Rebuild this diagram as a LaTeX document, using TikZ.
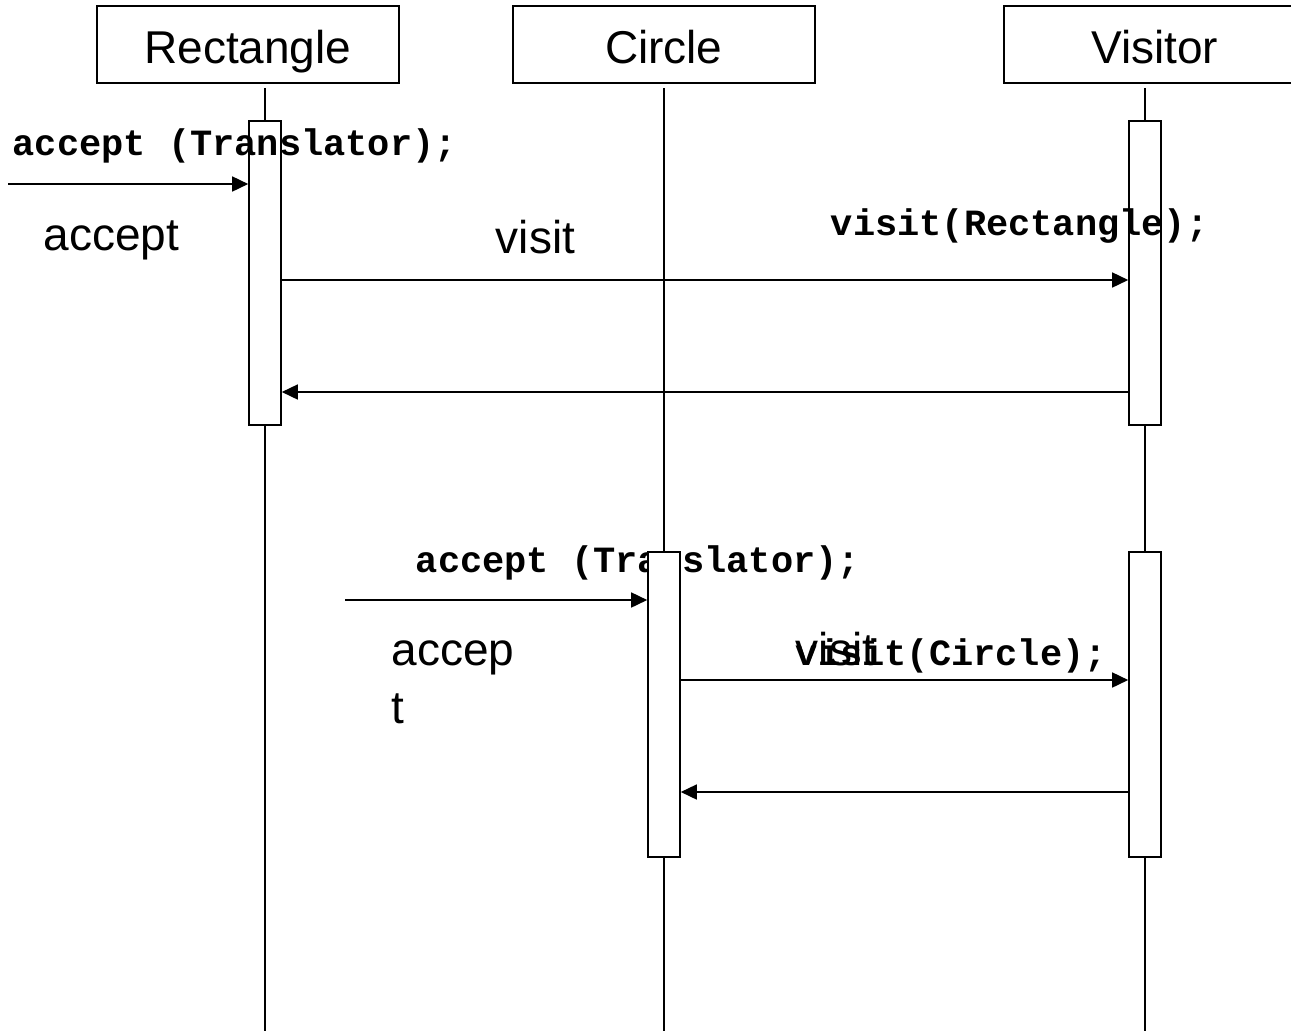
\documentclass[tikz,border=0pt]{standalone}
\usepackage{fontspec}
\setmainfont{Liberation Sans}
\newfontfamily\codefont{Liberation Mono}
\usetikzlibrary{arrows.meta}
\begin{document}
\begin{tikzpicture}[x=1pt,y=-1pt, line width=1.6pt,
 head/.style={draw, minimum width=302pt, minimum height=77pt, inner sep=0pt, text height=42pt, text depth=3pt, font=\fontsize{46}{50}\selectfont, anchor=north west},
 act/.style={draw, fill=white, minimum width=32pt, minimum height=304pt, inner sep=0pt, anchor=north},
 msg/.style={-{Triangle[length=16pt,width=15pt]}},
 lbl/.style={inner sep=0pt, anchor=base west, font=\fontsize{46}{58}\selectfont},
 code/.style={inner sep=0pt, anchor=base west, font=\codefont\bfseries\fontsize{37}{40}\selectfont}]
\clip (0,0) rectangle (1291,1031);
\fill[white] (0,0) rectangle (1291,1031);
% heads
\node[head] (hr) at (96,5) {Rectangle};
\node[head] (hc) at (512,5) {Circle};
\node[head] (hv) at (1003,5) {Visitor};
% lifelines
\coordinate (lr0) at (265,88);   \coordinate (lr1) at (265,1031);
\coordinate (lc0) at (664,88);   \coordinate (lc1) at (664,1031);
\coordinate (lv0) at (1145,88);  \coordinate (lv1) at (1145,1031);
\draw (lr0) -- (lr1);
\draw (lc0) -- (lc1);
\draw (lv0) -- (lv1);
% first interaction
\node[act] (ar) at (265,120) {};
\node[act] (av1) at (1145,120) {};
\coordinate (s1) at (8,184);
\draw[msg] (s1) -- (s1 -| ar.west);
\draw[msg] (ar.east |- 0,280) -- (av1.west |- 0,280);
\draw[msg] (av1.west |- 0,392) -- (ar.east |- 0,392);
\node[code] (t1) at (12,155) {accept (Translator);};
\node[lbl] (t2) at (43,250) {accept};
\node[lbl] (t3) at (495,253) {visit};
\node[code] (t4) at (830,235) {visit(Rectangle);};
% second interaction
\node[code] (t5) at (415,572) {accept (Translator);};
\node[act, minimum height=305pt] (ac) at (664,551) {};
\node[act, minimum height=305pt] (av2) at (1145,551) {};
\coordinate (s2) at (345,600);
\draw[msg] (s2) -- (s2 -| ac.west);
\draw[msg] (ac.east |- 0,680) -- (av2.west |- 0,680);
\draw[msg] (av2.west |- 0,792) -- (ac.east |- 0,792);
\node[lbl] (t6) at (391,665) {accep};
\node[lbl] (t7) at (391,723) {t};
\node[lbl] (t8) at (795,665) {visit};
\node[code] (t9) at (795,665) {visit(Circle);};
\end{tikzpicture}
\end{document}
